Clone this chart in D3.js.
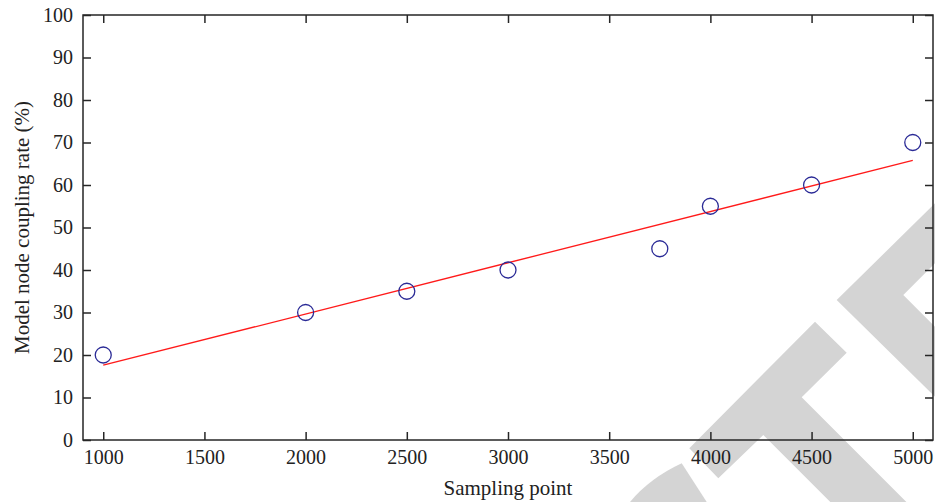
<!DOCTYPE html>
<html><head><meta charset="utf-8">
<script src="https://cdn.jsdelivr.net/npm/d3@7"></script>
<style>body{margin:0;background:#fff}svg{display:block}</style>
</head><body>
<script>
const sampleX = [1000, 2000, 2500, 3000, 3750, 4000, 4500, 5000];
const couplingRate = [20, 30, 35, 40, 45, 55, 60, 70];
const fitX = [1000, 5000];
const fitY = [17.6, 65.8];
const xTicks = [1000, 1500, 2000, 2500, 3000, 3500, 4000, 4500, 5000];
const yTicks = [0, 10, 20, 30, 40, 50, 60, 70, 80, 90, 100];

const W = 935, H = 502;
const m = {l: 83, r: 1, t: 15, b: 62};
const svg = d3.select("body").append("svg").attr("width", W).attr("height", H);
const font = "'Liberation Serif', 'DejaVu Serif', serif";

const x = d3.scaleLinear().domain([900, 5100]).range([m.l, W - m.r - 1]);
const y = d3.scaleLinear().domain([0, 100]).range([H - m.b, m.t]);

// watermark shapes
const wm = svg.append("g").attr("fill", "#d4d4d4");
wm.append("path").attr("d", "M815,321.7 L846.7,352.7 L801.7,397.3 L906.4,502 L830.3,502 L763.3,435 L718.3,478.3 L689.3,448.3 Z");
wm.append("path").attr("d", "M935,203.3 L836.7,300 L935,396.7 L935,326.7 L903.3,295 L935,263.3 Z");
wm.append("path").attr("d", "M630,502 Q650,478 681.7,463.3 L706.7,502 Z");

const tickLen = 8;
const g = svg.append("g");
g.append("rect").attr("x", x(900)).attr("y", y(100)).attr("width", x(5100) - x(900)).attr("height", y(0) - y(100))
  .attr("fill", "none").attr("stroke", "#262626").attr("stroke-width", 1.5);

const xa = d3.axisBottom(x).tickValues(xTicks).tickSize(-tickLen).tickPadding(10).tickFormat(d3.format("d"));
const gx = g.append("g").attr("transform", `translate(0,${y(0)})`).call(xa);
const xt = d3.axisTop(x).tickValues(xTicks).tickSize(-tickLen).tickFormat("");
const gxt = g.append("g").attr("transform", `translate(0,${y(100)})`).call(xt);
const ya = d3.axisLeft(y).tickValues(yTicks).tickSize(-tickLen).tickPadding(10).tickFormat(d3.format("d"));
const gy = g.append("g").attr("transform", `translate(${x(900)},0)`).call(ya);
const yr = d3.axisRight(y).tickValues(yTicks).tickSize(-tickLen).tickFormat("");
const gyr = g.append("g").attr("transform", `translate(${x(5100)},0)`).call(yr);
[gx, gxt, gy, gyr].forEach(a => {
  a.select(".domain").remove();
  a.selectAll(".tick line").attr("stroke", "#262626").attr("stroke-width", 1.5);
  a.selectAll("text").attr("fill", "#222").style("font-family", font).style("font-size", "20px");
});

const line = d3.line().x(d => x(d[0])).y(d => y(d[1]));
g.append("path").datum(fitX.map((v, i) => [v, fitY[i]])).attr("d", line)
  .attr("fill", "none").attr("stroke", "#ff1a1a").attr("stroke-width", 1.3);

g.selectAll("circle.pt").data(sampleX.map((v, i) => [v, couplingRate[i]])).join("circle")
  .attr("class", "pt").attr("cx", d => x(d[0])).attr("cy", d => y(d[1])).attr("r", 8)
  .attr("fill", "none").attr("stroke", "#2a2a96").attr("stroke-width", 1.3);

svg.append("text").attr("x", (x(900) + x(5100)) / 2).attr("y", 495).attr("text-anchor", "middle")
  .style("font-family", font).style("font-size", "21px").attr("fill", "#222").text("Sampling point");
svg.append("text").attr("transform", `translate(29,${(y(0) + y(100)) / 2}) rotate(-90)`).attr("text-anchor", "middle")
  .style("font-family", font).style("font-size", "21px").attr("fill", "#222").text("Model node coupling rate (%)");
</script>
</body></html>
